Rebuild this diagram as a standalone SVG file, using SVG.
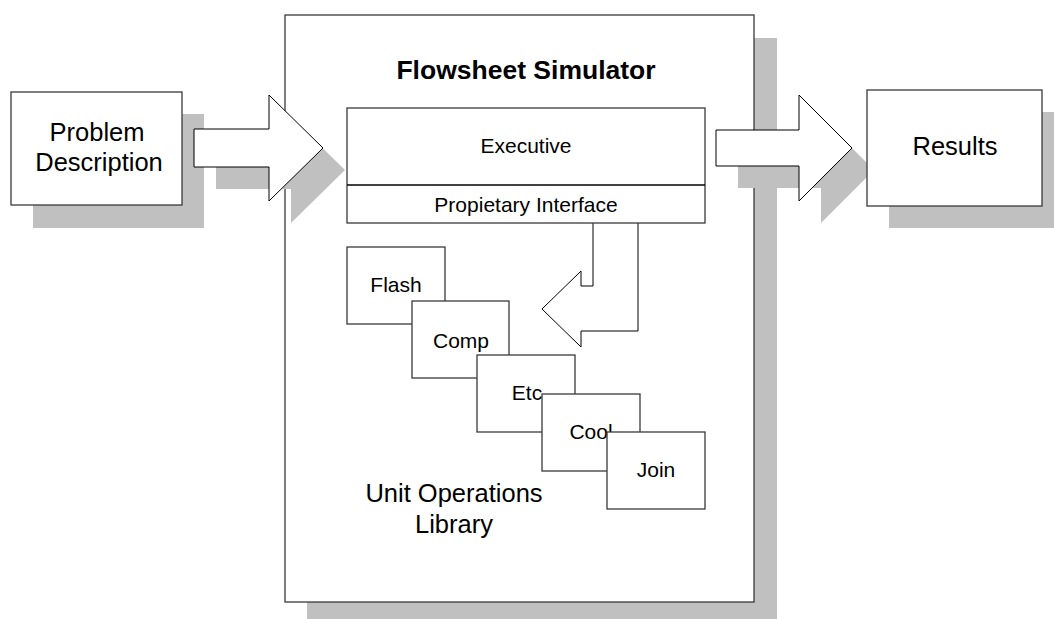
<svg xmlns="http://www.w3.org/2000/svg" width="1054" height="619" viewBox="0 0 1054 619">
  <style>
    .shadow { fill: #c0c0c0; stroke: none; }
    .box { fill: #ffffff; stroke: #3a3a3a; stroke-width: 1.3; }
    .arrow { fill: #ffffff; stroke: #000000; stroke-width: 1; stroke-linejoin: miter; }
    .big { font-family: "Liberation Sans", Arial, sans-serif; font-size: 25.5px; fill: #000; text-anchor: middle; }
    .title { font-family: "Liberation Sans", Arial, sans-serif; font-size: 26.5px; font-weight: bold; fill: #000; text-anchor: middle; }
    .small { font-family: "Liberation Sans", Arial, sans-serif; font-size: 21px; fill: #000; text-anchor: middle; }
  </style>
  <defs>
    <path id="inArrow" d="M194,129 L269,129 L269,95 L323,148 L269,201 L269,167 L194,167 Z"/>
    <path id="outArrow" d="M716,130 L799,130 L799,95 L852,148 L799,201 L799,166 L716,166 Z"/>
  </defs>

  <rect width="1054" height="619" fill="#ffffff"/>

  <!-- Problem Description -->
  <g id="problem">
    <rect class="shadow" x="33" y="114" width="171" height="114"/>
    <rect class="box" x="11" y="92" width="171" height="113"/>
    <text class="big" x="97" y="141">Problem</text>
    <text class="big" x="99" y="171">Description</text>
  </g>

  <!-- Flowsheet Simulator container -->
  <g id="simulator">
    <rect class="shadow" x="307" y="38" width="470" height="581"/>
    <rect class="box" x="285" y="15" width="469" height="587"/>
    <text class="title" x="526" y="79">Flowsheet Simulator</text>
  </g>

  <!-- Input / output arrows -->
  <g id="connectors">
    <use href="#inArrow" class="shadow" transform="translate(22,22)"/>
    <use href="#inArrow" class="arrow"/>
    <use href="#outArrow" class="shadow" transform="translate(22,22)"/>
    <use href="#outArrow" class="arrow"/>
    <!-- interface to library -->
    <path class="arrow" d="M593,223 L593,286 L581,286 L581,271 L542,309 L581,347 L581,331 L638,331 L638,223"/>
  </g>

  <!-- Executive + interface -->
  <g id="executive">
    <rect class="box" x="347" y="108" width="358" height="115"/>
    <line x1="347" y1="185" x2="705" y2="185" stroke="#000" stroke-width="1.3"/>
    <text class="small" x="526" y="153">Executive</text>
    <text class="small" x="526" y="212">Propietary Interface</text>
  </g>

  <!-- Results -->
  <g id="results">
    <rect class="shadow" x="889" y="112" width="175" height="116"/>
    <rect class="box" x="867" y="90" width="175" height="116"/>
    <text class="big" x="955" y="155">Results</text>
  </g>

  <!-- Unit operations library -->
  <g id="flash">
    <rect class="box" x="347" y="247" width="98" height="77"/>
    <text class="small" x="396" y="292">Flash</text>
  </g>
  <g id="comp">
    <rect class="box" x="412" y="301" width="97" height="77"/>
    <text class="small" x="461" y="348">Comp</text>
  </g>
  <g id="etc">
    <rect class="box" x="477" y="355" width="98" height="77"/>
    <text class="small" x="527" y="400">Etc</text>
  </g>
  <g id="cool">
    <rect class="box" x="542" y="394" width="98" height="77"/>
    <text class="small" x="591" y="439">Cool</text>
  </g>
  <g id="join">
    <rect class="box" x="607" y="432" width="98" height="77"/>
    <text class="small" x="656" y="477">Join</text>
  </g>
  <g id="library-label">
    <text class="big" x="454" y="502">Unit Operations</text>
    <text class="big" x="454" y="533">Library</text>
  </g>
</svg>
